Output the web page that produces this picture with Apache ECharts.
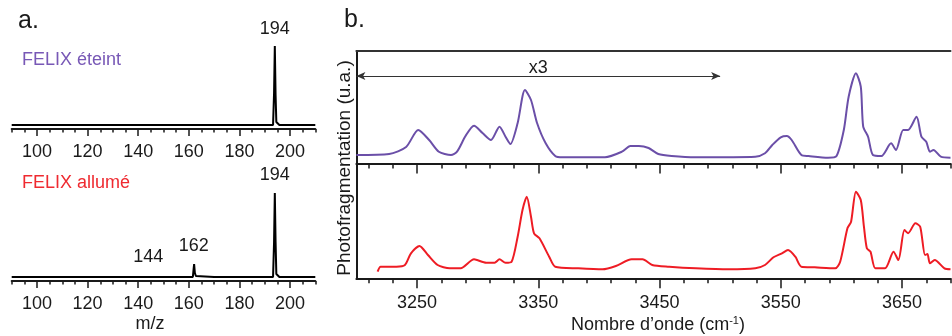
<!DOCTYPE html>
<html>
<head>
<meta charset="utf-8">
<script src="https://cdn.jsdelivr.net/npm/echarts@6/dist/echarts.min.js"></script>
<style>
html,body{margin:0;padding:0;background:#fff;}
#c{width:952px;height:336px;}
</style>
</head>
<body>
<div id="c"></div>
<script>
// ---- Panel a: mass spectra (m/z, intensity) ----
const mzOff  = [90, 150, 193.3, 193.7, 194, 194.3, 194.6, 195.2, 195.8, 210];
const intOff = [0, 0, 0, 32, 79, 30, 3, 2, 0, 0];
const mzOn   = [90, 143.7, 144, 144.3, 161.6, 161.9, 162.1, 162.4, 162.8, 163.3, 170, 180, 193.3, 193.7, 194, 194.3, 194.6, 195.2, 195.8, 210];
const intOn  = [0, 0, 1.5, 0, 0, 8, 13, 4, 1, 0, 0, 0, 0, 35, 84, 35, 3, 2, 0, 0];
const peaksOff = [194];
const peaksOn  = [144, 162, 194];
const mzMinorTicks = [90,95,100,105,110,115,120,125,130,135,140,145,150,155,160,165,170,175,180,185,190,195,200,205,210];
const mzMajorTicks = [100,120,140,160,180,200];

// ---- Panel b: IR spectra (wavenumber, photofragmentation) ----
const wnOff = [3200,3227,3241,3251,3260,3268,3278,3283,3290,3297,3304,3311,3318,3323,3327,3333,3339,3344,3349,3356,3364,3370,3405,3419,3426,3433,3441,3449,3460,3480,3529,3537,3543,3550,3555,3559,3567,3573,3589,3596,3602,3606,3612,3616,3618,3622,3626,3633,3641,3645,3651,3655,3662,3666,3670,3673,3676,3682,3690];
const pfOff = [8.5,9.5,16.5,33.5,23.5,11.8,8.5,11.8,27.5,37.8,30.5,23.5,36.8,26.8,19.5,40.5,73.5,63.5,40.5,20.5,7.5,6.2,6.2,11.8,17.5,17.5,15.5,9.5,7.5,6.2,6.8,10.2,18.5,26.2,27.5,23.5,8.5,7.5,5.8,7.5,33.5,66.8,90.2,76.8,36.8,26.8,8.5,7.5,20.2,13.5,33.5,33.5,46.8,26.8,21.8,11.8,13.5,6.8,5.8];
const wnOn = [3217.5,3220,3233,3240,3245,3252,3259,3267,3277,3286,3297,3307,3314,3318,3323,3328,3333,3337,3340.5,3344,3346.5,3351,3359,3364,3383,3403,3414,3427,3436,3444,3458,3480,3507,3529,3537,3544,3551,3556,3562,3567,3578,3595,3599,3605,3608,3612,3616,3618.6,3621,3624,3628,3636,3643,3647,3652,3655,3661,3665,3669,3671,3673,3677,3685,3690];
const pfOn = [6.6,11.6,11.6,13.3,25,32.3,23.3,13.3,10,10,19,15.6,15.6,19,15.6,16.6,41.6,68.3,81.6,61.6,45,40,21.6,11.6,10,9,12.3,19,19,13.3,11.6,10,9,10,13.3,21,25,28.3,21.6,11.6,11,10,16.6,50,56.6,86.6,78.3,51.6,30,26.6,10,10,26.6,18.3,48.3,45,55,51.6,23.3,24.3,15,18.3,10,9];
const wnMinorTicks = [3210,3230,3250,3270,3290,3310,3330,3350,3370,3390,3410,3430,3450,3470,3490,3510,3530,3550,3570,3590,3610,3630,3650,3670,3690];
const wnMajorTicks = [3250,3350,3450,3550,3650];
const scaledRange = [3200, 3500]; // "x3" region
const scaledLevel = 87.5;

const FONT = '"Liberation Sans", Arial, Helvetica, sans-serif';
const PURPLE = '#6b4fa8', PURPLE_T = '#7858b6', RED = '#ee1c24', RED_T = '#ef2a30', INK = '#1a1a1a';

const zip = (a, b) => a.map((v, i) => [v, b[i]]);
const peakPoints = (mz, it, peaks) => peaks.map(p => {
  let best = 0; mz.forEach((m, i) => { if (Math.abs(m - p) < 0.5 && it[i] > best) best = it[i]; });
  return { coord: [p, best], value: String(p) };
});

function xAx(grid, min, max, ticks, len, opts) {
  return Object.assign({
    type: 'value', gridIndex: grid, min: min, max: max, position: 'bottom',
    axisLine: { show: false, onZero: false, lineStyle: { color: INK, width: 2 } },
    axisTick: { show: true, customValues: ticks, length: len, lineStyle: { color: INK, width: 1.5 } },
    axisLabel: { show: false },
    splitLine: { show: false }
  }, opts || {});
}
const lab = (vals, margin) => ({ show: true, customValues: vals, margin: margin, color: INK, fontSize: 18, fontFamily: FONT, formatter: v => String(v) });

const option = {
  animation: false,
  grid: [
    { left: 11.7, width: 303.6, top: 40, height: 89 },
    { left: 11.7, width: 303.6, top: 192, height: 89 },
    { left: 356.4, right: 1.5, top: 51, height: 112.5 },
    { left: 356.4, right: 1.5, top: 163.5, height: 114.8 }
  ],
  xAxis: [
    xAx(0, 90, 210, mzMinorTicks, 3.5, { axisLine: { show: true, onZero: false, lineStyle: { color: INK, width: 2 } } }),
    xAx(0, 90, 210, mzMajorTicks, 7, { axisLabel: lab(mzMajorTicks, 14) }),
    xAx(1, 90, 210, mzMinorTicks, 3.5, { axisLine: { show: true, onZero: false, lineStyle: { color: INK, width: 2 } } }),
    xAx(1, 90, 210, mzMajorTicks, 7, { axisLabel: lab(mzMajorTicks, 14) }),
    xAx(2, 3200, 3690, wnMinorTicks, 5, { axisLine: { show: true, onZero: false, lineStyle: { color: INK, width: 2 } } }),
    xAx(2, 3200, 3690, wnMajorTicks, 10),
    xAx(2, 3200, 3690, [], 0, { position: 'top', axisTick: { show: false }, axisLine: { show: true, onZero: false, lineStyle: { color: '#333', width: 2 } } }),
    xAx(3, 3200, 3690, wnMinorTicks, 5, { axisLine: { show: true, onZero: false, lineStyle: { color: INK, width: 2 } } }),
    xAx(3, 3200, 3690, wnMajorTicks, 10, { axisLabel: lab(wnMajorTicks, 16) })
  ],
  yAxis: [
    { type: 'value', gridIndex: 0, min: -4, max: 85, show: false },
    { type: 'value', gridIndex: 1, min: -4, max: 85, show: false },
    { type: 'value', gridIndex: 2, min: 0, max: 112.5, axisLine: { show: true, onZero: false, lineStyle: { color: INK, width: 2 } }, axisTick: { show: false }, axisLabel: { show: false }, splitLine: { show: false } },
    { type: 'value', gridIndex: 3, min: 0, max: 114.8, axisLine: { show: true, onZero: false, lineStyle: { color: INK, width: 2 } }, axisTick: { show: false }, axisLabel: { show: false }, splitLine: { show: false } }
  ],
  series: [
    { type: 'line', xAxisIndex: 0, yAxisIndex: 0, data: zip(mzOff, intOff), showSymbol: false, lineStyle: { color: '#000', width: 2 },
      markPoint: { symbol: 'circle', symbolSize: 0, data: peakPoints(mzOff, intOff, peaksOff), label: { show: true, position: 'top', distance: 8, formatter: p => p.data.value, color: INK, fontSize: 18, fontFamily: FONT } } },
    { type: 'line', xAxisIndex: 2, yAxisIndex: 1, data: zip(mzOn, intOn), showSymbol: false, lineStyle: { color: '#000', width: 2 },
      markPoint: { symbol: 'circle', symbolSize: 0, data: peakPoints(mzOn, intOn, peaksOn), label: { show: true, position: 'top', distance: 9, formatter: p => p.data.value, color: INK, fontSize: 18, fontFamily: FONT } } },
    { type: 'line', xAxisIndex: 4, yAxisIndex: 2, data: zip(wnOff, pfOff), showSymbol: false, smooth: 0.25, lineStyle: { color: PURPLE, width: 2 },
      markLine: { silent: true, symbol: ['arrow', 'arrow'], symbolSize: [6, 9], lineStyle: { color: '#333', width: 1, type: 'solid' },
        label: { show: true, position: 'insideMiddleTop', distance: 3, offset: [0, 4], formatter: 'x3', color: INK, fontSize: 18, fontFamily: FONT },
        data: [[{ coord: [scaledRange[0], scaledLevel] }, { coord: [scaledRange[1], scaledLevel] }]] } },
    { type: 'line', xAxisIndex: 7, yAxisIndex: 3, data: zip(wnOn, pfOn), showSymbol: false, smooth: 0.25, lineStyle: { color: RED, width: 2 } }
  ],
  graphic: [
    { type: 'text', style: { text: 'a.', x: 18, y: 21, font: '25px ' + FONT, fill: INK, verticalAlign: 'middle' } },
    { type: 'text', style: { text: 'b.', x: 344, y: 20, font: '25px ' + FONT, fill: INK, verticalAlign: 'middle' } },
    { type: 'text', style: { text: 'FELIX éteint', x: 22, y: 60, font: '18px ' + FONT, fill: PURPLE_T, verticalAlign: 'middle' } },
    { type: 'text', style: { text: 'FELIX allumé', x: 22, y: 183, font: '18px ' + FONT, fill: RED_T, verticalAlign: 'middle' } },
    { type: 'text', style: { text: 'm/z', x: 150, y: 324, font: '18px ' + FONT, fill: INK, align: 'center', verticalAlign: 'middle' } },
    { type: 'text', x: 345, y: 168, rotation: Math.PI / 2, style: { text: 'Photofragmentation (u.a.)', x: 0, y: 0, font: '19px ' + FONT, fill: INK, align: 'center', verticalAlign: 'middle' } },
    { type: 'text', style: { text: 'Nombre d’onde (cm{sup|-1})', x: 658, y: 325, font: '18px ' + FONT, fill: INK, align: 'center', verticalAlign: 'middle',
        rich: { sup: { fontSize: 11, fontFamily: FONT, verticalAlign: 'top', padding: [0, 0, 8, 0] } } } }
  ]
};

const chart = echarts.init(document.getElementById('c'), null, { renderer: 'canvas' });
chart.setOption(option);
</script>
</body>
</html>
